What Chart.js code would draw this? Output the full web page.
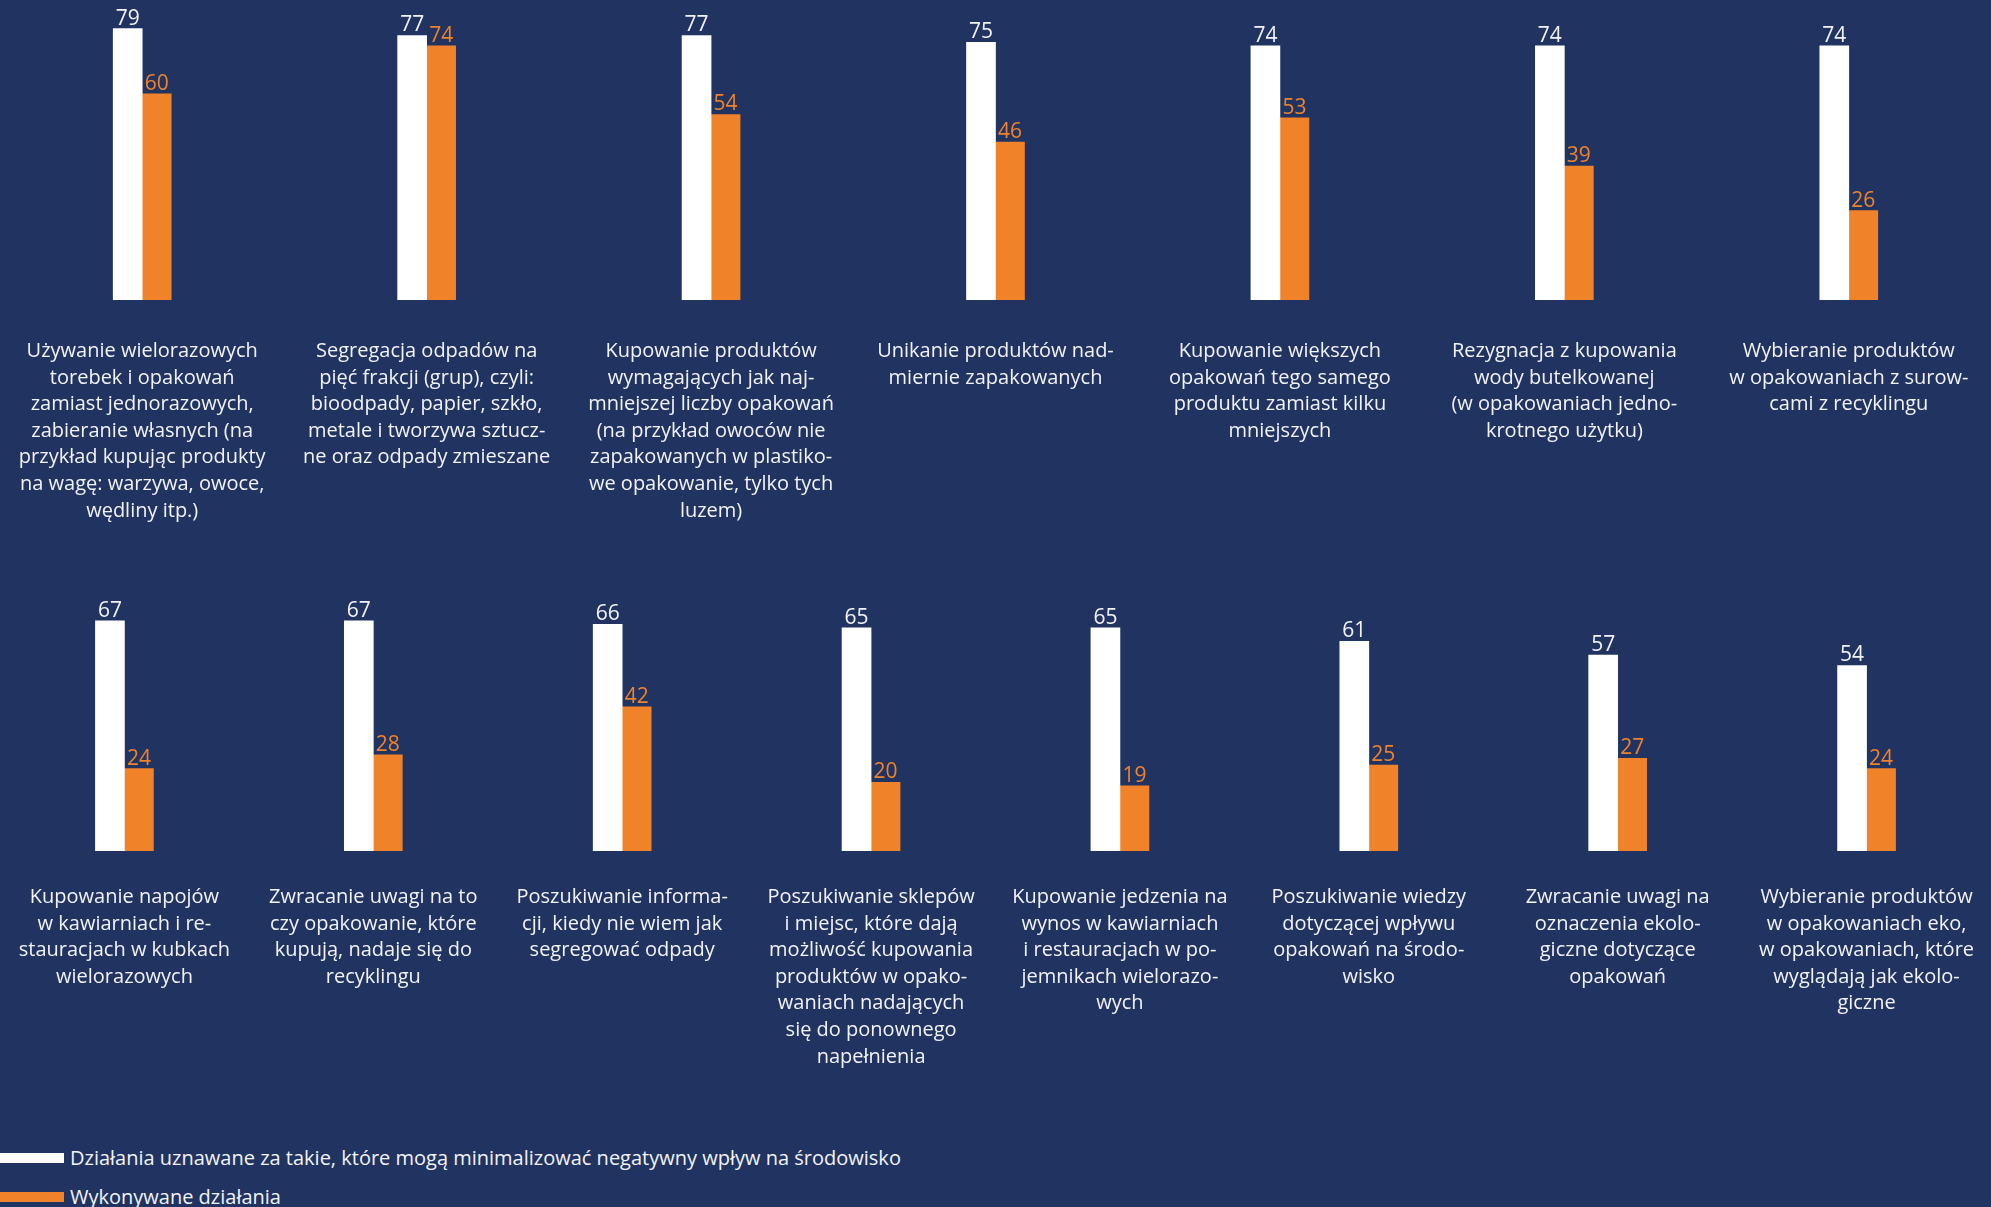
<!DOCTYPE html>
<html lang="pl">
<head>
<meta charset="utf-8">
<script src="https://cdn.jsdelivr.net/npm/chart.js@4.4.1/dist/chart.umd.min.js"></script>
<style>
  html, body { margin: 0; padding: 0; background: #213360; }
  body { width: 1991px; height: 1207px; position: relative; overflow: hidden; font-family: "Open Sans", sans-serif; }
  .box { position: absolute; left: 0; width: 1991px; }
  #topBox { top: 0; height: 540px; }
  #bottomBox { top: 550px; height: 541px; }
  #legend { position: absolute; left: 0; top: 1138px; color: #f2f3f7; font-size: 20px; }
  .item { display: flex; align-items: center; height: 39px; white-space: nowrap; }
  .swatch { width: 64px; height: 10px; margin-right: 6px; }
</style>
</head>
<body>
<div class="box" id="topBox"><canvas id="topChart"></canvas></div>
<div class="box" id="bottomBox"><canvas id="bottomChart"></canvas></div>
<div id="legend"></div>

<script>
const seriesNames = [
  'Działania uznawane za takie, które mogą minimalizować negatywny wpływ na środowisko',
  'Wykonywane działania',
];

const topLabels = [
  ['Używanie wielorazowych', 'torebek i opakowań', 'zamiast jednorazowych,', 'zabieranie własnych (na', 'przykład kupując produkty', 'na wagę: warzywa, owoce,', 'wędliny itp.)'],
  ['Segregacja odpadów na', 'pięć frakcji (grup), czyli:', 'bioodpady, papier, szkło,', 'metale i tworzywa sztucz-', 'ne oraz odpady zmieszane'],
  ['Kupowanie produktów', 'wymagających jak naj-', 'mniejszej liczby opakowań', '(na przykład owoców nie', 'zapakowanych w plastiko-', 'we opakowanie, tylko tych', 'luzem)'],
  ['Unikanie produktów nad-', 'miernie zapakowanych'],
  ['Kupowanie większych', 'opakowań tego samego', 'produktu zamiast kilku', 'mniejszych'],
  ['Rezygnacja z kupowania', 'wody butelkowanej', '(w opakowaniach jedno-', 'krotnego użytku)'],
  ['Wybieranie produktów', 'w opakowaniach z surow-', 'cami z recyklingu'],
];
const topConsidered = [79, 77, 77, 75, 74, 74, 74];
const topDone = [60, 74, 54, 46, 53, 39, 26];

const bottomLabels = [
  ['Kupowanie napojów', 'w kawiarniach i re-', 'stauracjach w kubkach', 'wielorazowych'],
  ['Zwracanie uwagi na to', 'czy opakowanie, które', 'kupują, nadaje się do', 'recyklingu'],
  ['Poszukiwanie informa-', 'cji, kiedy nie wiem jak', 'segregować odpady'],
  ['Poszukiwanie sklepów', 'i miejsc, które dają', 'możliwość kupowania', 'produktów w opako-', 'waniach nadających', 'się do ponownego', 'napełnienia'],
  ['Kupowanie jedzenia na', 'wynos w kawiarniach', 'i restauracjach w po-', 'jemnikach wielorazo-', 'wych'],
  ['Poszukiwanie wiedzy', 'dotyczącej wpływu', 'opakowań na środo-', 'wisko'],
  ['Zwracanie uwagi na', 'oznaczenia ekolo-', 'giczne dotyczące', 'opakowań'],
  ['Wybieranie produktów', 'w opakowaniach eko,', 'w opakowaniach, które', 'wyglądają jak ekolo-', 'giczne'],
];
const bottomConsidered = [67, 67, 66, 65, 65, 61, 57, 54];
const bottomDone = [24, 28, 42, 20, 19, 25, 27, 24];

const WHITE = '#ffffff';
const ORANGE = '#f0822a';
const TEXT = '#f2f3f7';
const FONT = '"Open Sans", sans-serif';

// numbers above each bar
const valueLabels = {
  id: 'valueLabels',
  afterDatasetsDraw(chart) {
    const ctx = chart.ctx;
    ctx.save();
    ctx.font = '21px ' + FONT;
    ctx.textAlign = 'center';
    ctx.textBaseline = 'alphabetic';
    chart.data.datasets.forEach((ds, i) => {
      ctx.fillStyle = ds.labelColor;
      chart.getDatasetMeta(i).data.forEach((bar, j) => {
        ctx.fillText(ds.data[j], bar.x, bar.y - 4);
      });
    });
    ctx.restore();
  },
};

function makeChart(id, labels, considered, done, padTop, gap) {
  return new Chart(document.getElementById(id), {
    type: 'bar',
    data: {
      labels: labels,
      datasets: [
        {
          label: seriesNames[0],
          data: considered,
          backgroundColor: WHITE,
          labelColor: TEXT,
          barThickness: 29,
        },
        {
          label: seriesNames[1],
          data: done,
          backgroundColor: ORANGE,
          labelColor: ORANGE,
          barThickness: 29,
        },
      ],
    },
    options: {
      responsive: true,
      maintainAspectRatio: false,
      animation: false,
      layout: { padding: { top: padTop, left: 0, right: 0, bottom: 0 } },
      plugins: {
        legend: { display: false },
        tooltip: { enabled: false },
      },
      scales: {
        y: {
          display: false,
          min: 0,
          max: 85,
        },
        x: {
          // invisible tick marks only push the labels down
          grid: { display: false, drawTicks: true, tickLength: gap },
          border: { display: false },
          ticks: {
            color: TEXT,
            autoSkip: false,
            maxRotation: 0,
            padding: 0,
            font: { family: FONT, size: 20, lineHeight: 1.33 },
          },
          afterFit: (scale) => { scale.height = 240; },
        },
      },
    },
    plugins: [valueLabels],
  });
}

makeChart('topChart', topLabels, topConsidered, topDone, 8, 38);
makeChart('bottomChart', bottomLabels, bottomConsidered, bottomDone, 9, 33);

// legend, stacked
const legend = document.getElementById('legend');
[WHITE, ORANGE].forEach((color, i) => {
  const item = document.createElement('div');
  item.className = 'item';
  const sw = document.createElement('span');
  sw.className = 'swatch';
  sw.style.background = color;
  const txt = document.createElement('span');
  txt.textContent = seriesNames[i];
  item.appendChild(sw);
  item.appendChild(txt);
  legend.appendChild(item);
});
</script>
</body>
</html>
